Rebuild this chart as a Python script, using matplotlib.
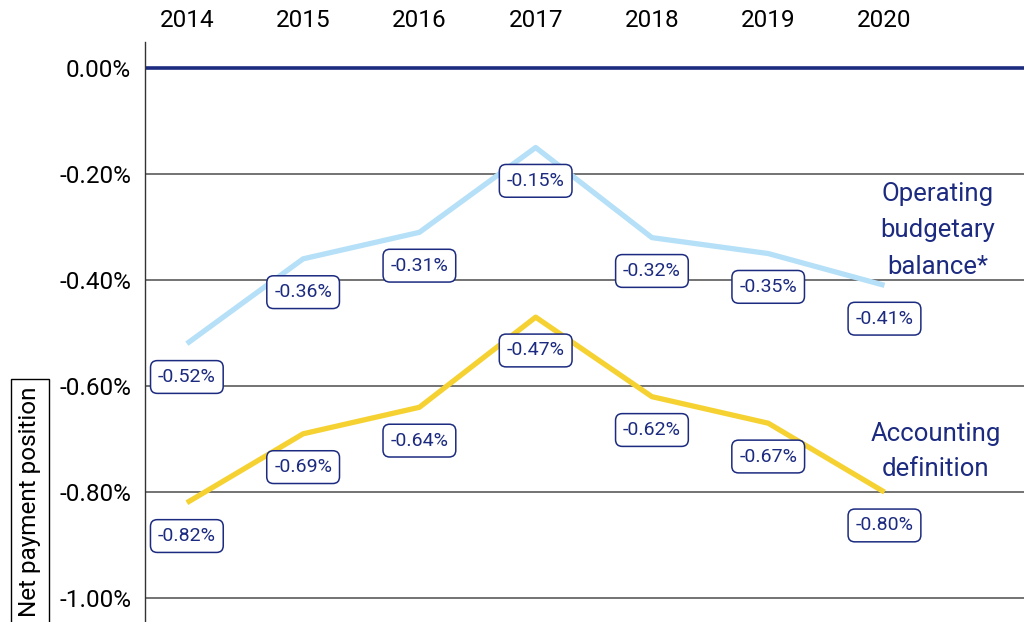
import matplotlib.pyplot as plt
from matplotlib.ticker import FuncFormatter

plt.rcParams['font.family'] = ['Roboto', 'DejaVu Sans']

# Данные
years = [2014, 2015, 2016, 2017, 2018, 2019, 2020]
operating = [-0.52, -0.36, -0.31, -0.15, -0.32, -0.35, -0.41]
accounting = [-0.82, -0.69, -0.64, -0.47, -0.62, -0.67, -0.80]
y_ticks = [0.0, -0.2, -0.4, -0.6, -0.8, -1.0]

NAVY = '#1c2b80'
BLUE = '#b5e0f8'
YELLOW = '#f5d232'

fig = plt.figure(figsize=(10.24, 6.22), dpi=100)
ax = fig.add_axes([145 / 1024, 0, 1 - 145 / 1024, 1 - 42 / 622])

ax.set_xlim(2013.64, 2021.2)
ax.set_ylim(-1.045, 0.049)

# Сетка
for t in y_ticks[1:]:
    ax.axhline(t, color='#4d4d4d', lw=1.1, zorder=1)
ax.axhline(0, color=NAVY, lw=2.6, zorder=2)

ax.plot(years, operating, color=BLUE, lw=3.8, solid_capstyle='butt', zorder=3)
ax.plot(years, accounting, color=YELLOW, lw=3.8, solid_capstyle='butt', zorder=3)

# Подписи значений
for series in (operating, accounting):
    for x, v in zip(years, series):
        ax.annotate(f'{v:.2f}%', (x, v), xytext=(0, -24), textcoords='offset points',
                    ha='center', va='center', fontsize=14, color=NAVY, zorder=5,
                    bbox=dict(boxstyle='round,pad=0.38,rounding_size=0.35',
                              fc='white', ec=NAVY, lw=1.1))

ax.text(2020.46, -0.306, 'Operating\nbudgetary\nbalance*', ha='center', va='center',
        fontsize=18.5, color=NAVY, linespacing=1.65)
ax.text(2020.44, -0.723, 'Accounting\ndefinition', ha='center', va='center',
        fontsize=18.5, color=NAVY, linespacing=1.55)

# Оси
ax.set_xticks(years)
ax.xaxis.tick_top()
ax.set_yticks(y_ticks)
ax.yaxis.set_major_formatter(FuncFormatter(lambda v, p: f'{v:.2f}%'))
ax.tick_params(axis='both', length=0, labelsize=17.5)
ax.tick_params(axis='y', pad=10)
ax.tick_params(axis='x', pad=7)
for s in ('top', 'right', 'bottom'):
    ax.spines[s].set_visible(False)
ax.spines['left'].set_color('#333333')
ax.spines['left'].set_linewidth(1)

fig.text(30 / 1024, 1 - 502 / 622, 'Net payment position', rotation=90,
         ha='center', va='center', fontsize=17.5,
         bbox=dict(boxstyle='square,pad=0.3', fc='white', ec='black', lw=1))

fig.savefig('out.png', dpi=100)
